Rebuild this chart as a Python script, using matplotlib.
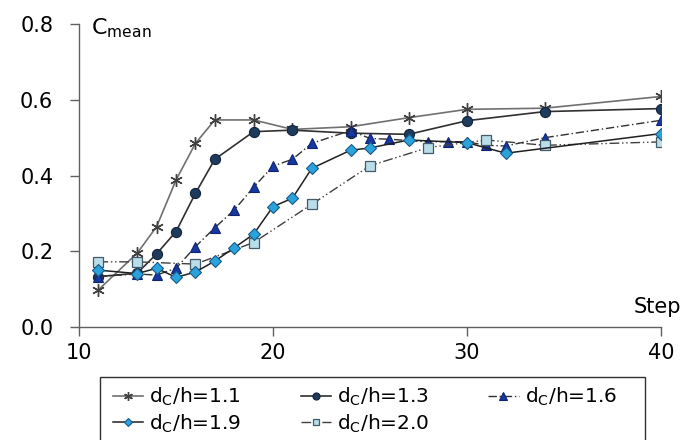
import matplotlib.pyplot as plt
from matplotlib.patches import Rectangle

plt.rcParams['font.family'] = ['DejaVu Sans']
plt.rcParams['mathtext.fontset'] = 'dejavusans'

# mean concentration per step for each d_c/h ratio
step_11 = [11, 13, 14, 15, 16, 17, 19, 21, 24, 27, 30, 34, 40]
c_11 = [0.098, 0.195, 0.265, 0.388, 0.485, 0.547, 0.547, 0.522, 0.529, 0.553, 0.575, 0.578, 0.609]

step_13 = [11, 13, 14, 15, 16, 17, 19, 21, 24, 27, 30, 34, 40]
c_13 = [0.133, 0.142, 0.193, 0.252, 0.353, 0.443, 0.516, 0.520, 0.512, 0.509, 0.545, 0.569, 0.577]

step_16 = [11, 13, 14, 15, 16, 17, 18, 19, 20, 21, 22, 24, 25, 26, 28, 29, 30, 31, 32, 34, 40]
c_16 = [0.133, 0.140, 0.137, 0.155, 0.212, 0.262, 0.309, 0.369, 0.425, 0.443, 0.485, 0.519,
        0.498, 0.496, 0.489, 0.490, 0.489, 0.480, 0.478, 0.500, 0.546]

step_19 = [11, 13, 14, 15, 16, 17, 18, 19, 20, 21, 22, 24, 25, 27, 30, 32, 40]
c_19 = [0.150, 0.141, 0.155, 0.131, 0.145, 0.174, 0.209, 0.245, 0.318, 0.340, 0.419, 0.467,
        0.473, 0.494, 0.487, 0.459, 0.511]

step_20 = [11, 13, 16, 19, 22, 25, 28, 31, 34, 40]
c_20 = [0.172, 0.172, 0.166, 0.223, 0.324, 0.426, 0.474, 0.494, 0.480, 0.489]

fig = plt.figure(figsize=(6.83, 4.40), dpi=100)
ax = fig.add_axes([0.1157, 0.257, 0.852, 0.688])

l11, = ax.plot(step_11, c_11, color='#707070', lw=1.2, marker=(6, 2, 0), ms=9,
               mec='#404040', mew=1.0, label='d$_\\mathregular{C}$/h=1.1', zorder=3)
l13, = ax.plot(step_13, c_13, color='#303030', lw=1.2, marker='o', ms=7.3,
               mfc='#1e3a5c', mec='#14243a', mew=0.8, label='d$_\\mathregular{C}$/h=1.3', zorder=4)
l16, = ax.plot(step_16, c_16, color='#303030', lw=1.0, ls=(0, (6, 2, 1, 2)), marker='^', ms=7.5,
               mfc='#1737a3', mec='#0e2470', mew=0.8, label='d$_\\mathregular{C}$/h=1.6', zorder=5)
l19, = ax.plot(step_19, c_19, color='#202020', lw=1.1, marker='D', ms=6.3,
               mfc='#2aa3dc', mec='#1a5a88', mew=0.8, label='d$_\\mathregular{C}$/h=1.9', zorder=6)
l20, = ax.plot(step_20, c_20, color='#404040', lw=1.0, ls=(0, (7, 2, 1, 2, 1, 2)), marker='s', ms=7,
               mfc='#b9dde9', mec='#445a68', mew=0.9, label='d$_\\mathregular{C}$/h=2.0', zorder=5)

ax.set_xlim(10, 40)
ax.set_ylim(0, 0.8)
ax.set_xticks([10, 20, 30, 40])
ax.set_yticks([0.0, 0.2, 0.4, 0.6, 0.8])
ax.set_yticklabels(['0.0', '0.2', '0.4', '0.6', '0.8'])
ax.tick_params(axis='both', direction='out', length=6.5, width=1.0, color='#606060',
               labelsize=15)
ax.tick_params(axis='y', pad=12)
ax.tick_params(axis='x', pad=5)
for side in ['top', 'right']:
    ax.spines[side].set_visible(False)
for side in ['left', 'bottom']:
    ax.spines[side].set_color('#606060')
    ax.spines[side].set_linewidth(1.0)

ax.text(10.6, 0.772, 'C$_\\mathregular{mean}$', fontsize=16, va='baseline', ha='left')
ax.text(38.6, 0.037, 'Step', fontsize=15, va='baseline', ha='left')

# legend filled row by row: 1.1, 1.3, 1.6 / 1.9, 2.0
handles = [l11, l19, l13, l20, l16]
leg = fig.legend(handles=handles, labels=[h.get_label() for h in handles],
                 loc='upper left', bbox_to_anchor=(0.1654, -0.2, 0.738, 0.3227),
                 mode='expand', ncol=3, fontsize=14.5, frameon=False,
                 handlelength=1.5, handletextpad=0.3, markerscale=0.7,
                 borderpad=0, labelspacing=0.2, borderaxespad=0)
fig.add_artist(Rectangle((0.1464, -0.1), 0.798, 0.2432, transform=fig.transFigure,
                         fill=False, edgecolor='#303030', lw=1.0))

fig.savefig('out.png', dpi=100)
